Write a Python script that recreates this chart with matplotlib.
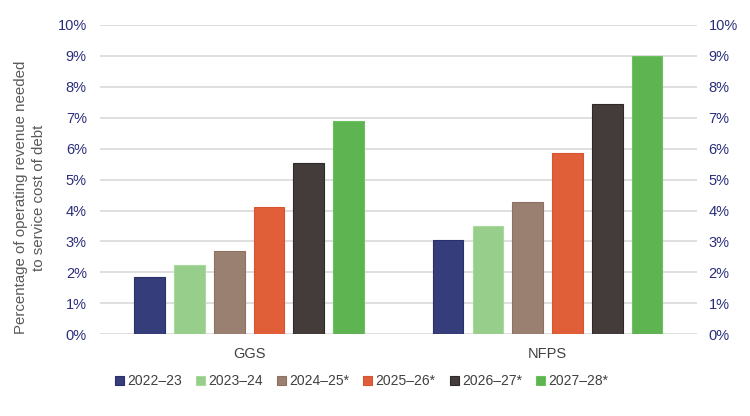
import matplotlib
matplotlib.use("Agg")
import matplotlib.pyplot as plt
import numpy as np
from matplotlib.ticker import FuncFormatter

plt.rcParams['font.family'] = ['Liberation Sans', 'DejaVu Sans']

categories = ["GGS", "NFPS"]
series_names = ["2022\u201323", "2023\u201324", "2024\u201325*", "2025\u201326*", "2026\u201327*", "2027\u201328*"]
ggs_values = [1.85, 2.24, 2.70, 4.10, 5.54, 6.88]
nfps_values = [3.05, 3.51, 4.28, 5.86, 7.43, 9.00]
colors = ["#353D7A", "#98CE8C", "#9A8070", "#E05E38", "#433C3B", "#5FB452"]
edge_colors = ["#2A306A", "#A8DA9C", "#8C7262", "#D65530", "#2F2A29", "#6CC05E"]
yticks = list(range(0, 11))

fig = plt.figure(figsize=(7.5, 4.16), dpi=100)
ax = fig.add_axes([0.1333, 0.1964, 0.7957, 0.7436])

x = np.arange(len(categories))
step = 0.1333
width = 0.103
n = len(series_names)
for i, name in enumerate(series_names):
    vals = [ggs_values[i], nfps_values[i]]
    ax.bar(x + (i - (n - 1) / 2) * step, vals, width=width, color=colors[i],
           edgecolor=edge_colors[i], linewidth=0.8, label=name, zorder=3)

ax.set_xlim(-0.5, 1.5)
ax.set_ylim(0, 10)
ax.set_yticks(yticks)
ax.yaxis.set_major_formatter(FuncFormatter(lambda v, p: f"{int(v)}%"))
ax.grid(axis='y', color='#D9D9D9', linewidth=1.2, zorder=0)
ax.set_axisbelow(True)
for s in ax.spines.values():
    s.set_visible(False)
ax.tick_params(axis='both', length=0)
ax.tick_params(axis='y', colors='#2A2E7A', labelsize=10.5, pad=9.5)
ax.tick_params(axis='x', colors='#404040', labelsize=10.5, pad=9)
ax.set_xticks(x)
ax.set_xticklabels(categories)

ax2 = ax.twinx()
ax2.set_ylim(0, 10)
ax2.set_yticks(yticks)
ax2.yaxis.set_major_formatter(FuncFormatter(lambda v, p: f"{int(v)}%"))
for s in ax2.spines.values():
    s.set_visible(False)
ax2.tick_params(axis='y', length=0, colors='#2A2E7A', labelsize=10.5, pad=8.5)

fig.text(0.04, 0.525, "Percentage of operating revenue needed\nto service cost of debt",
         rotation=90, ha='center', va='center', fontsize=10.8, color='#595959',
         multialignment='center', linespacing=1.3)

handles, labels = ax.get_legend_handles_labels()
leg = fig.legend(handles, labels, loc='center', bbox_to_anchor=(0.482, 0.084), ncol=6,
                 frameon=False, fontsize=10, handlelength=0.65, handleheight=0.65,
                 handletextpad=0.25, columnspacing=1.0, labelcolor='#404040')

fig.savefig("out.png", dpi=100)
